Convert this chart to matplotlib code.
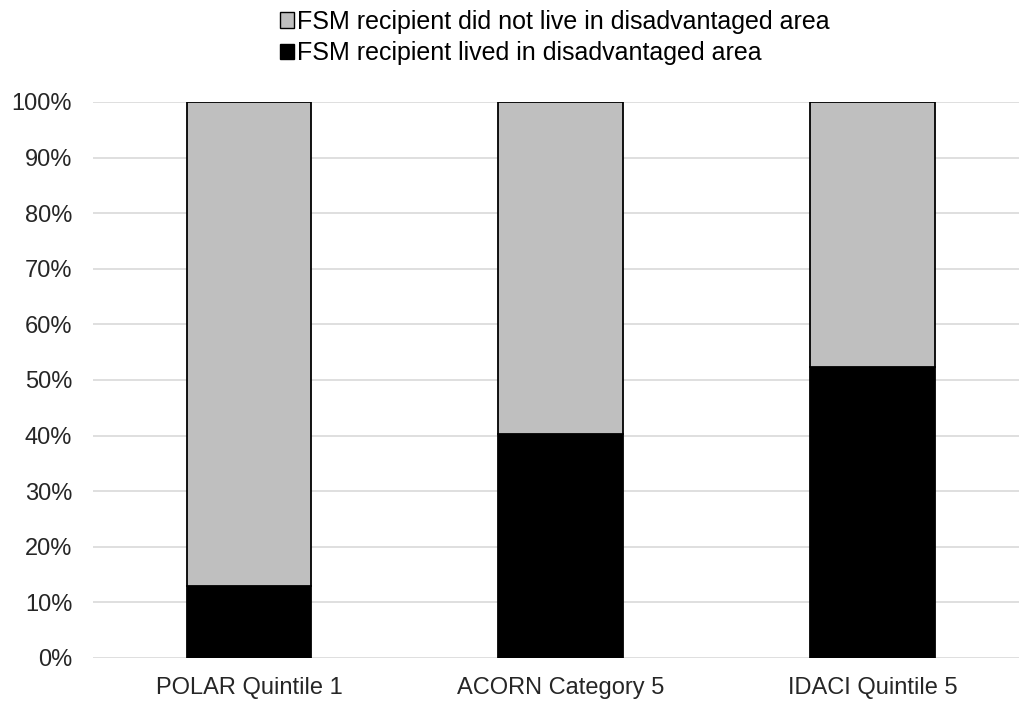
import matplotlib
matplotlib.use("Agg")
import matplotlib.pyplot as plt
import numpy as np

categories = ["POLAR Quintile 1", "ACORN Category 5", "IDACI Quintile 5"]
lived = [12.9, 40.2, 52.4]
not_lived = [100 - v for v in lived]
yticks = list(range(0, 101, 10))

plt.rcParams["font.family"] = ["Liberation Sans", "DejaVu Sans"]

fig = plt.figure(figsize=(10.19, 7.04), dpi=100)
ax = fig.add_axes([93 / 1019, 1 - 658 / 704, (1019 - 93) / 1019, 556 / 704])

x = np.arange(len(categories))
b1 = ax.bar(x, lived, width=0.4, color="black", edgecolor="black", linewidth=1.3,
            label="FSM recipient lived in disadvantaged area", zorder=3)
b2 = ax.bar(x, not_lived, width=0.4, bottom=lived, color="#BFBFBF", edgecolor="black",
            linewidth=1.3, label="FSM recipient did not live in disadvantaged area", zorder=3)

ax.set_xlim(-0.5, 2.47)
ax.set_ylim(0, 100)
ax.set_yticks(yticks)
ax.set_yticklabels([f"{t}%" for t in yticks], fontsize=17, color="#262626")
ax.set_xticks(x)
ax.set_xticklabels(categories, fontsize=17, color="#262626")
ax.tick_params(axis="y", length=0, pad=15)
ax.tick_params(axis="x", length=0, pad=14)
ax.grid(axis="y", color="#D9D9D9", linewidth=1.2, zorder=0)
for s in ax.spines.values():
    s.set_visible(False)

ax.legend([b2, b1], [b2.get_label(), b1.get_label()], loc="upper center",
          bbox_to_anchor=(555 / 1019, 1.011), bbox_transform=fig.transFigure,
          frameon=False, fontsize=18, borderpad=0.2,
          handlelength=0.56, handleheight=0.56, handletextpad=0.12, labelspacing=0.3)
leg = ax.get_legend()
leg.legend_handles[0].set_linewidth(1.0)
leg.legend_handles[1].set_linewidth(1.0)

fig.savefig("out.png", dpi=100)
